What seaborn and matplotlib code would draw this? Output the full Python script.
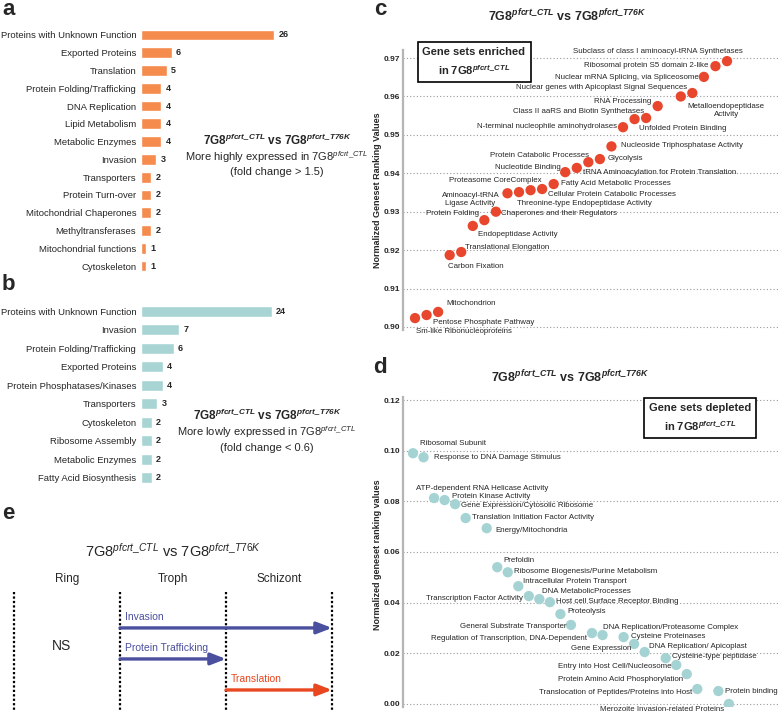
import matplotlib
matplotlib.use("Agg")
import matplotlib.pyplot as plt
import seaborn as sns

# ---- panel a: more highly expressed in CTL
cats_a = ["Proteins with Unknown Function", "Exported Proteins", "Translation",
          "Protein Folding/Trafficking", "DNA Replication", "Lipid Metabolism",
          "Metabolic Enzymes", "Invasion", "Transporters", "Protein Turn-over",
          "Mitochondrial Chaperones", "Methyltransferases", "Mitochondrial functions",
          "Cytoskeleton"]
counts_a = [26, 6, 5, 4, 4, 4, 4, 3, 2, 2, 2, 2, 1, 1]

# ---- panel b: more lowly expressed in CTL
cats_b = ["Proteins with Unknown Function", "Invasion", "Protein Folding/Trafficking",
          "Exported Proteins", "Protein Phosphatases/Kinases", "Transporters",
          "Cytoskeleton", "Ribosome Assembly", "Metabolic Enzymes", "Fatty Acid Biosynthesis"]
counts_b = [24, 7, 6, 4, 4, 3, 2, 2, 2, 2]

# ---- panel c: gene sets enriched
sets_c = ["Sm-like Ribonucleoproteins", "Pentose Phosphate Pathway", "Mitochondrion",
          "Carbon Fixation", "Translational Elongation", "Protein Folding",
          "Endopeptidase Activity", "Chaperones and their Regulators",
          "Aminoacyl-tRNA\nLigase Activity", "Proteasome CoreComplex",
          "Threonine-type Endopeptidase Activity", "Cellular Protein Catabolic Processes",
          "Fatty Acid Metabolic Processes", "Nucleotide Binding",
          "tRNA Aminoacylation for Protein Translation", "Protein Catabolic Processes",
          "Glycolysis", "Nucleoside Triphosphatase Activity",
          "N-terminal nucleophile aminohydrolases", "Class II aaRS and Biotin Synthetases",
          "Unfolded Protein Binding", "RNA Processing",
          "Nuclear genes with Apicoplast Signal Sequences", "Metalloendopeptidase\nActivity",
          "Nuclear mRNA Splicing, via Spliceosome", "Ribosomal protein S5 domain 2-like",
          "Subclass of class I aminoacyl-tRNA Synthetases"]
rank_c = list(range(22)) + [23, 24, 25, 26, 27]
values_c = [0.9023, 0.9031, 0.9039, 0.9187, 0.9195, 0.9263, 0.9278, 0.9300,
            0.9348, 0.9351, 0.9356, 0.9359, 0.9372, 0.9403, 0.9414, 0.9429,
            0.9437, 0.9470, 0.9520, 0.9541, 0.9544, 0.9575, 0.9600, 0.9609,
            0.9651, 0.9679, 0.9692]

# ---- panel d: gene sets depleted
sets_d = ["Ribosomal Subunit", "Response to DNA Damage Stimulus",
          "ATP-dependent RNA Helicase Activity", "Protein Kinase Activity",
          "Gene Expression/Cytosolic Ribosome", "Translation Initiation Factor Activity",
          "Energy/Mitochondria", "Prefoldin", "Ribosome Biogenesis/Purine Metabolism",
          "Intracellular Protein Transport", "Transcription Factor Activity",
          "DNA MetabolicProcesses", "Host cell Surface Receptor Binding", "Proteolysis",
          "General Substrate Transporter", "Regulation of Transcription, DNA-Dependent",
          "DNA Replication/Proteasome Complex", "Cysteine Proteinases", "Gene Expression",
          "DNA Replication/ Apicoplast", "Cysteine-type peptidase",
          "Entry into Host Cell/Nucleosome", "Protein Amino Acid Phosphorylation",
          "Translocation of Peptides/Proteins into Host", "Protein binding",
          "Merozoite Invasion-related Proteins"]
rank_d = [0, 1, 2, 3, 4, 5, 7, 8, 9, 10, 11, 12, 13, 14, 15, 17, 18, 20, 21, 22,
          24, 25, 26, 27, 29, 30]
values_d = [0.0990, 0.0974, 0.0813, 0.0805, 0.0789, 0.0734, 0.0694, 0.0540, 0.0520,
            0.0465, 0.0426, 0.0414, 0.0402, 0.0355, 0.0312, 0.0280, 0.0272, 0.0264,
            0.0237, 0.0205, 0.0181, 0.0154, 0.0118, 0.0059, 0.0051, 0.0000]

# ---- panel e: stage schematic
stages = ["Ring", "Troph", "Schizont"]
processes_e = ["Invasion", "Protein Trafficking", "Translation"]
start_e = ["Troph", "Troph", "Schizont"]
end_e = ["Schizont", "Troph", "Schizont"]

# label placement (pixel offsets from point, alignment)
lab_c = [(1, 13, "left"), (6, 7, "left"), (8, -8, "left"), (-2, 11, "left"),
         (4, -5, "left"), (6, -12, "right"), (-6, 14, "left"), (5, 2, "left"),
         (-37, 6, "center"), (23, -12, "right"), (-14, 13, "left"), (6, 5, "left"),
         (7, -1, "left"), (-4, -5, "right"), (6, 5, "left"), (1, -7, "right"),
         (8, -1, "left"), (10, -1, "left"), (-6, -1, "right"), (10, -8, "right"),
         (-7, 11, "left"), (-6, -5, "right"), (6, -9, "right"), (34, 17, "center"),
         (-5, 1, "right"), (-7, -1, "right"), (16, -10, "right")]
lab_d = [(7, -10, "left"), (10, 0, "left"), (-18, -10, "left"), (7, -4, "left"),
         (6, 1, "left"), (6, -1, "left"), (9, 2, "left"), (6, -7, "left"),
         (6, -1, "left"), (5, -5, "left"), (-6, 2, "right"), (3, -8, "left"),
         (6, -1, "left"), (7, -3, "left"), (-4, 2, "right"), (-5, 5, "right"),
         (0, -8, "left"), (7, -1, "left"), (-3, 5, "right"), (4, -6, "left"),
         (6, -2, "left"), (-5, 2, "right"), (-4, 5, "right"), (-5, 3, "right"),
         (7, 0, "left"), (-5, 6, "right")]

ORANGE = "#f58b4c"
TEAL = "#a8d5d4"
RED = "#e8472d"
BLUE = "#4a4f9e"
ARROW_RED = "#e8471f"

sns.set_style("white")
plt.rcParams["font.family"] = ["Liberation Sans", "DejaVu Sans"]
plt.rcParams["mathtext.fontset"] = "custom"
plt.rcParams["mathtext.rm"] = "Liberation Sans"
plt.rcParams["mathtext.it"] = "Liberation Sans:italic"
plt.rcParams["mathtext.bf"] = "Liberation Sans:bold"
plt.rcParams["mathtext.bfit"] = "Liberation Sans:bold:italic"

W, H = 779, 712
fig = plt.figure(figsize=(W / 100, H / 100), dpi=100)


def px_axes(x0, y0, x1, y1):
    return fig.add_axes([x0 / W, 1 - y1 / H, (x1 - x0) / W, (y1 - y0) / H])


def ftext(x, y, s, **kw):
    fig.text(x / W, 1 - y / H, s, **kw)


TITLE_BF = r"7G8$^{\mathbfit{pfcrt\_CTL}}$ vs 7G8$^{\mathbfit{pfcrt\_T76K}}$"
TITLE_RM = r"7G8$^{\mathit{pfcrt\_CTL}}$ vs 7G8$^{\mathit{pfcrt\_T76K}}$"
CTL_BF = r"in 7G8$^{\mathbfit{pfcrt\_CTL}}$"


def bar_panel(ax, cats, counts, color, xmax):
    sns.barplot(x=counts, y=cats, color=color, width=0.6, saturation=1, ax=ax)
    ax.set_xlim(0, xmax)
    ax.set_ylim(len(cats) - 0.5, -0.5)
    ax.bar_label(ax.containers[0], padding=3, fontsize=6.5, fontweight="bold")
    ax.set_xlabel("")
    ax.set_ylabel("")
    ax.set_xticks([])
    ax.tick_params(axis="y", length=0, pad=3.5, labelsize=6.8)
    sns.despine(ax=ax, left=True, bottom=True)


# panel a
ax_a = px_axes(141, 26, 380, 275)
bar_panel(ax_a, cats_a, counts_a, ORANGE, 239 / 5.12)
ftext(277, 140, TITLE_BF, fontsize=8.5, fontweight="bold", ha="center", va="center")
ftext(277, 157, r"More highly expressed in 7G8$^{\mathit{pfcrt\_CTL}}$", fontsize=8,
      ha="center", va="center")
ftext(277, 172, "(fold change > 1.5)", fontsize=8, ha="center", va="center")

# panel b
ax_b = px_axes(141, 302, 380, 487)
bar_panel(ax_b, cats_b, counts_b, TEAL, 239 / 5.46)
ftext(267, 415, TITLE_BF, fontsize=8.5, fontweight="bold", ha="center", va="center")
ftext(267, 432, r"More lowly expressed in 7G8$^{\mathit{pfcrt\_CTL}}$", fontsize=8,
      ha="center", va="center")
ftext(267, 448, "(fold change < 0.6)", fontsize=8, ha="center", va="center")


def dot_panel(ax, ranks, values, names, offsets, color, ticks):
    sns.scatterplot(x=ranks, y=values, color=color, s=55, edgecolor="none",
                    ax=ax, zorder=3)
    for r, v, n, (dx, dy, ha) in zip(ranks, values, names, offsets):
        ax.annotate(n, (r, v), xytext=(dx, -dy), textcoords="offset pixels",
                    ha=ha, va="center", fontsize=5.7, multialignment="center",
                    annotation_clip=False, zorder=4)
    ax.set_yticks(ticks)
    ax.set_xticks([])
    ax.grid(axis="y", linestyle=(0, (1, 2)), color="#999999", lw=0.8)
    ax.tick_params(axis="y", length=0, pad=2, labelsize=6)
    for t in ax.get_yticklabels():
        t.set_fontweight("bold")
    sns.despine(ax=ax, bottom=True, right=True, top=True)
    ax.spines["left"].set_color("#b5b5b5")
    ax.spines["left"].set_linewidth(1.6)


# panel c
ax_c = px_axes(403, 50, 779, 330)
dot_panel(ax_c, rank_c, values_c, sets_c, lab_c, RED,
          [0.90, 0.91, 0.92, 0.93, 0.94, 0.95, 0.96, 0.97])
ax_c.set_xlim(-1.04, 31.5)
ax_c.set_ylim(0.8992, 0.9721)
ax_c.yaxis.set_major_formatter(matplotlib.ticker.FormatStrFormatter("%.2f"))
ftext(567, 16, TITLE_BF, fontsize=9, fontweight="bold", ha="center", va="center")
ftext(474, 62, "Gene sets enriched\n" + CTL_BF, fontsize=8, fontweight="bold",
      ha="center", va="center", linespacing=1.5,
      bbox=dict(boxstyle="square,pad=0.45", fc="white", ec="black", lw=1.2))
ftext(378, 190, "Normalized Geneset Ranking Values", fontsize=6.5, fontweight="bold",
      rotation=90, ha="center", va="center")

# panel d
ax_d = px_axes(403, 397, 779, 707)
dot_panel(ax_d, rank_d, values_d, sets_d, lab_d, "#a5d3d3",
          [0.00, 0.02, 0.04, 0.06, 0.08, 0.10, 0.12])
ax_d.set_xlim(-0.95, 34.76)
ax_d.set_ylim(-0.0012, 0.1212)
ax_d.yaxis.set_major_formatter(matplotlib.ticker.FormatStrFormatter("%.2f"))
ftext(570, 377, TITLE_BF, fontsize=9, fontweight="bold", ha="center", va="center")
ftext(700, 418, "Gene sets depleted\n" + CTL_BF, fontsize=8, fontweight="bold",
      ha="center", va="center", linespacing=1.5,
      bbox=dict(boxstyle="square,pad=0.45", fc="white", ec="black", lw=1.2))
ftext(378, 555, "Normalized geneset ranking values", fontsize=6.5, fontweight="bold",
      rotation=90, ha="center", va="center")

# panel e
ax_e = px_axes(14, 560, 332, 712)
ax_e.set_xlim(0, len(stages))
ax_e.set_ylim(2.71, -2.19)
ax_e.axis("off")
for i in range(len(stages) + 1):
    ax_e.vlines(i, -1.16, 2.71, colors="black", linestyles=(0, (1, 1)), lw=1.6,
                clip_on=False)
for i, s in enumerate(stages):
    ax_e.text(i + 0.5, -1.58, s, fontsize=8.5, ha="center", va="center")
ax_e.text(1.5, -2.48, TITLE_RM, fontsize=10.5, ha="center", va="center", clip_on=False)
ax_e.text(0.45, 0.58, "NS", fontsize=10, ha="center", va="center")
for row, (p, s0, s1) in enumerate(zip(processes_e, start_e, end_e)):
    x0 = stages.index(s0)
    x1 = stages.index(s1) + 1
    col = ARROW_RED if p == "Translation" else BLUE
    ax_e.annotate("", xy=(x1, row), xytext=(x0, row),
                  arrowprops=dict(arrowstyle="-|>,head_length=0.9,head_width=0.35",
                                  color=col, lw=2.4, shrinkA=0, shrinkB=0),
                  annotation_clip=False)
    ax_e.text(x0 + 0.05, row - 0.36, p, fontsize=7.5, color=col, ha="left",
              va="center")

# panel letters
for letter, x, y in [("a", 2, 15), ("b", 2, 290), ("c", 374, 15), ("d", 373, 373),
                     ("e", 2, 519)]:
    ftext(x, y, letter, fontsize=16, fontweight="bold", ha="left", va="baseline")

fig.savefig("out.png", dpi=100)
